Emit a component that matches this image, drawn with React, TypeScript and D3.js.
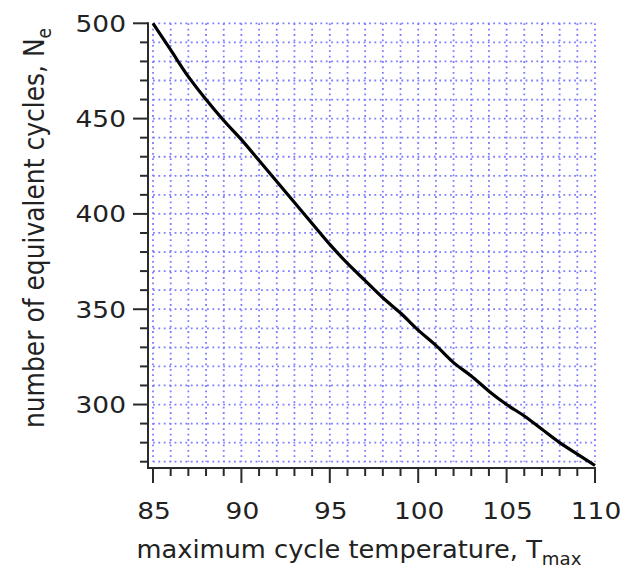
import { useEffect, useRef } from 'react';
import * as d3 from 'd3';

// temperatures (x) and number of equivalent cycles (y)
const temps = [85, 86, 87, 88, 89, 90, 91, 92, 93, 94, 95, 96, 97, 98, 99, 100, 101, 102, 103, 104, 105, 106, 107, 108, 109, 110];
const cycles = [500, 486, 472, 460, 449, 439, 428, 417, 406, 395, 384, 374, 365, 356, 348, 339, 331, 322, 315, 307, 300, 294, 287, 280, 274, 268];

const xMajor = [85, 90, 95, 100, 105, 110];
const yMajor = [300, 350, 400, 450, 500];

export default function App() {
  const svgRef = useRef<SVGSVGElement>(null);

  useEffect(() => {
    const width = 627;
    const height = 572;
    const svg = d3.select(svgRef.current);
    svg.selectAll('*').remove();
    svg.attr('width', width).attr('height', height);

    const left = 153, right = 595, top = 23.3, bottom = 468;
    const axisX = 148; // y axis sits a bit left of the plot area

    const x = d3.scaleLinear().domain([85, 110]).range([left, right]);
    const y = d3.scaleLinear().domain([266.7, 500]).range([bottom, top]);

    const font = 'DejaVu Sans, Verdana, sans-serif';
    const gridColor = '#7d7dff';
    const stretch = 1.15; // the reference text is a little wider than it is tall

    // Grid - dotted
    const grid = svg.append('g');
    const xMinor = d3.range(85, 110.01, 1);
    const yMinor = d3.range(270, 500.01, 10);

    grid.selectAll('.vg')
      .data(xMinor)
      .enter()
      .append('line')
      .attr('x1', d => x(d)).attr('x2', d => x(d))
      .attr('y1', top).attr('y2', y(270))
      .attr('stroke', gridColor)
      .attr('stroke-width', 1.8)
      .attr('stroke-dasharray', '1.8,3.6');

    grid.selectAll('.hg')
      .data(yMinor)
      .enter()
      .append('line')
      .attr('x1', left).attr('x2', right)
      .attr('y1', d => y(d)).attr('y2', d => y(d))
      .attr('stroke', gridColor)
      .attr('stroke-width', 1.8)
      .attr('stroke-dasharray', '1.8,3.6');

    // Axes
    const axisColor = '#2a2a2a';
    const ax = svg.append('g').attr('stroke', axisColor).attr('stroke-width', 2);

    ax.append('line').attr('x1', axisX).attr('x2', axisX).attr('y1', top - 1).attr('y2', bottom + 1);
    ax.append('line').attr('x1', axisX - 1).attr('x2', right + 1).attr('y1', bottom).attr('y2', bottom);

    ax.selectAll('.yt')
      .data(yMinor)
      .enter()
      .append('line')
      .attr('x1', d => axisX - (yMajor.includes(d) ? 15 : 8))
      .attr('x2', axisX)
      .attr('y1', d => y(d)).attr('y2', d => y(d));

    ax.selectAll('.xt')
      .data(xMinor)
      .enter()
      .append('line')
      .attr('x1', d => x(d)).attr('x2', d => x(d))
      .attr('y1', bottom)
      .attr('y2', d => bottom + (xMajor.includes(d) ? 15 : 8));

    // Tick labels
    svg.selectAll('.yl')
      .data(yMajor)
      .enter()
      .append('text')
      .attr('transform', d => `translate(126,${y(d)}) scale(${stretch},1)`)
      .attr('dy', '0.36em')
      .attr('text-anchor', 'end')
      .attr('font-family', font)
      .attr('font-size', 23)
      .attr('fill', '#222')
      .text(d => d);

    svg.selectAll('.xl')
      .data(xMajor)
      .enter()
      .append('text')
      .attr('transform', d => `translate(${x(d) + 1},519) scale(${stretch},1)`)
      .attr('text-anchor', 'middle')
      .attr('font-family', font)
      .attr('font-size', 23)
      .attr('fill', '#222')
      .text(d => d);

    // Axis titles
    const xt = svg.append('text')
      .attr('transform', 'translate(359,558) scale(1.07,1)')
      .attr('text-anchor', 'middle')
      .attr('font-family', font)
      .attr('font-size', 24)
      .attr('fill', '#222');
    xt.append('tspan').text('maximum cycle temperature, T');
    xt.append('tspan').attr('dy', 7).attr('font-size', 17).text('max');

    const yt = svg.append('text')
      .attr('transform', `translate(44,228) scale(1.1,1) rotate(-90)`)
      .attr('text-anchor', 'middle')
      .attr('font-family', font)
      .attr('font-size', 25)
      .attr('fill', '#222');
    yt.append('tspan').text('number of equivalent cycles, N');
    yt.append('tspan').attr('dy', 6).attr('font-size', 17).text('e');

    // Curve
    const line = d3.line<number>()
      .x((d, i) => x(temps[i]))
      .y(d => y(d))
      .curve(d3.curveMonotoneX);

    svg.append('path')
      .datum(cycles)
      .attr('d', line)
      .attr('fill', 'none')
      .attr('stroke', '#000')
      .attr('stroke-width', 3.2);
  }, []);

  return <svg ref={svgRef} style={{ display: 'block', position: 'absolute', left: 0, top: 0 }}></svg>;
}
